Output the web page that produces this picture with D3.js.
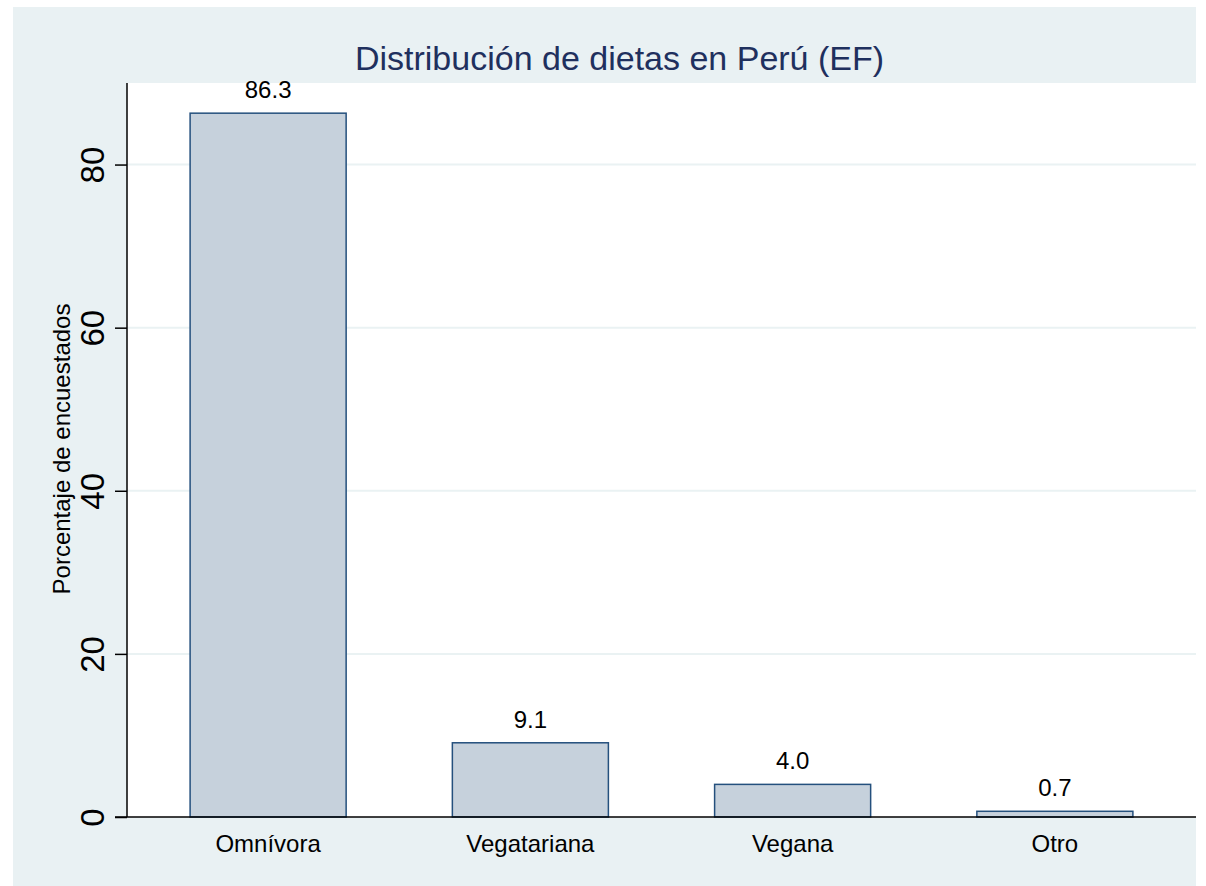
<!DOCTYPE html>
<html>
<head>
<meta charset="utf-8">
<script src="https://cdn.jsdelivr.net/npm/d3@7"></script>
<style>
  body { margin: 0; background: #ffffff; }
  text { font-family: Arial, "Liberation Sans", sans-serif; }
</style>
</head>
<body>
<script>
const w = 1206;
const h = 886;

const categories = ['Omnívora', 'Vegatariana', 'Vegana', 'Otro'];
const values = [86.3, 9.1, 4.0, 0.7];
const yTicks = [0, 20, 40, 60, 80];

const outer = { x: 13, y: 7, right: 1196, bottom: 886 };
const plot = { left: 127, top: 83, right: 1196, bottom: 817 };

const svg = d3.select('body')
  .append('svg')
  .attr('width', w)
  .attr('height', h);

// graph region
svg.append('rect')
  .attr('x', outer.x)
  .attr('y', outer.y)
  .attr('width', outer.right - outer.x)
  .attr('height', outer.bottom - outer.y)
  .attr('fill', '#e9f1f3');

// plot region
svg.append('rect')
  .attr('x', plot.left)
  .attr('y', plot.top)
  .attr('width', plot.right - plot.left)
  .attr('height', plot.bottom - plot.top)
  .attr('fill', '#ffffff');

const yScale = d3.scaleLinear().domain([0, 90]).range([plot.bottom, plot.top]);
const xScale = d3.scaleBand().domain(categories).range([137, 1186])
  .paddingInner(0.405).paddingOuter(0.2025);

// gridlines
svg.append('g')
  .selectAll('line')
  .data(yTicks.filter(t => t > 0))
  .enter()
  .append('line')
  .attr('x1', plot.left)
  .attr('x2', plot.right)
  .attr('y1', d => yScale(d))
  .attr('y2', d => yScale(d))
  .attr('stroke', '#eaf2f3')
  .attr('stroke-width', 2);

// bars
svg.selectAll('.bar')
  .data(values)
  .enter()
  .append('rect')
  .attr('class', 'bar')
  .attr('x', (d, i) => xScale(categories[i]))
  .attr('y', d => yScale(d))
  .attr('width', xScale.bandwidth())
  .attr('height', d => yScale(0) - yScale(d))
  .attr('fill', '#c6d1dc')
  .attr('stroke', '#24507d')
  .attr('stroke-width', 1.5);

// value labels
svg.selectAll('.val')
  .data(values)
  .enter()
  .append('text')
  .attr('class', 'val')
  .attr('x', (d, i) => xScale(categories[i]) + xScale.bandwidth() / 2)
  .attr('y', d => yScale(d) - 15)
  .attr('text-anchor', 'middle')
  .attr('font-size', 24)
  .attr('fill', '#000')
  .text(d => d.toFixed(1));

// y axis
const yAxis = d3.axisLeft(yScale).tickValues(yTicks).tickSize(12).tickPadding(8);
const yg = svg.append('g')
  .attr('transform', `translate(${plot.left}, 0)`)
  .call(yAxis);
yg.select('.domain').attr('d', `M0,${plot.top}V${plot.bottom}`).attr('stroke', '#000').attr('stroke-width', 1.5);
yg.selectAll('.tick line').attr('stroke', '#000').attr('stroke-width', 1.5);
yg.selectAll('.tick text')
  .attr('font-size', 33)
  .attr('font-family', 'Arial, "Liberation Sans", sans-serif')
  .attr('fill', '#000')
  .attr('text-anchor', 'middle')
  .attr('x', null)
  .attr('dy', null)
  .attr('transform', 'translate(-23, 0) rotate(-90)')
  .attr('y', 0);

// x axis
const xAxis = d3.axisBottom(xScale).tickSize(0).tickPadding(18);
const xg = svg.append('g')
  .attr('transform', `translate(0, ${plot.bottom})`)
  .call(xAxis);
xg.select('.domain').attr('d', `M${plot.left - 12},0H${plot.right}`).attr('stroke', '#000').attr('stroke-width', 1.5);
xg.selectAll('.tick text')
  .attr('font-size', 24)
  .attr('font-family', 'Arial, "Liberation Sans", sans-serif')
  .attr('fill', '#000');

// axis title
svg.append('text')
  .attr('transform', `translate(70, 449) rotate(-90)`)
  .attr('text-anchor', 'middle')
  .attr('font-size', 24)
  .attr('fill', '#000')
  .text('Porcentaje de encuestados');

// title
svg.append('text')
  .attr('x', 619.5)
  .attr('y', 70)
  .attr('text-anchor', 'middle')
  .attr('font-size', 34)
  .attr('fill', '#1f305e')
  .text('Distribución de dietas en Perú (EF)');
</script>
</body>
</html>
